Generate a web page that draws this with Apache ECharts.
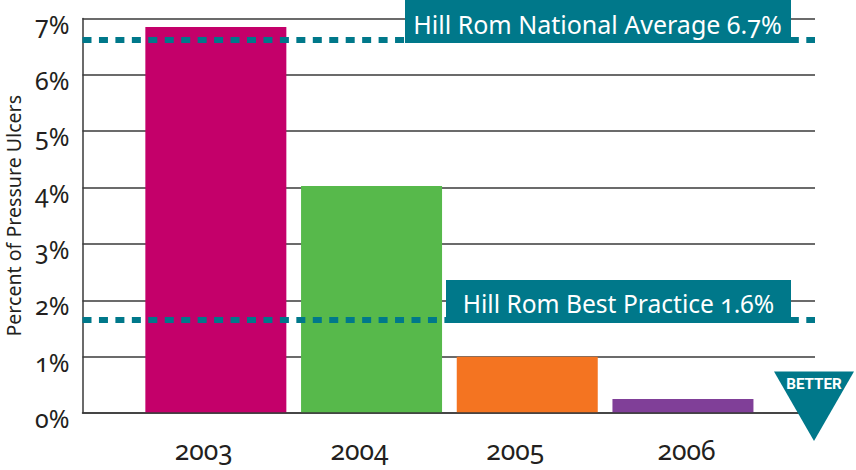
<!DOCTYPE html>
<html>
<head>
<meta charset="utf-8">
<style>
html,body{margin:0;padding:0;background:#fff}
#c{width:856px;height:470px}
text{font-feature-settings:"onum" 1 !important;font-variant-numeric:oldstyle-nums !important}
</style>
<script src="https://cdn.jsdelivr.net/npm/echarts@6/dist/echarts.min.js"></script>
</head>
<body>
<div id="c"></div>
<script>
var years = ['2003','2004','2005','2006'];
var values = [6.85,4.03,1.0,0.25];
var barColors = ['#c4006a','#57b94b','#f47421','#803f98'];
var nationalAverage = 6.62;
var bestPractice = 1.65;
var nationalLabel = 'Hill Rom National Average 6.7%';
var bestLabel = 'Hill Rom Best Practice 1.6%';
var yTitle = 'Percent of Pressure Ulcers';
var betterLabel = 'BETTER';
var teal = '#00788a';
var ink = '#231f20';
var font = '"Noto Sans"';

function dashed(v){
  return {type:'line',xAxisIndex:0,yAxisIndex:0,data:[[0,v],[1,v]],showSymbol:false,silent:true,z:5,
    lineStyle:{color:teal,width:6,type:[9,7.45],cap:'butt'}};
}
var chart = echarts.init(document.getElementById('c'),null,{renderer:'svg',width:856,height:470});
chart.setOption({
  animation:false,
  backgroundColor:'#fff',
  grid:[
    {left:82.5,top:18.5,width:732.5,height:394.5,outerBoundsMode:'none',containLabel:false},
    {left:138,top:18.5,width:622.8,height:394.5,outerBoundsMode:'none',containLabel:false}
  ],
  xAxis:[
    {type:'value',gridIndex:0,min:0,max:1,z:3,axisLabel:{show:false},axisTick:{show:false},splitLine:{show:false},
     axisLine:{show:true,lineStyle:{color:'#3a3a3a',width:1.5}}},
    {type:'category',gridIndex:1,data:years,axisLine:{show:false},axisTick:{show:false},
     axisLabel:{margin:23,fontFamily:font,fontSize:26.5,color:ink,
       formatter:function(v){return v==='2006'?'{r|'+v+'}':'{l|'+v+'}';},
       rich:{l:{fontFamily:font,fontSize:26.5,color:ink,padding:[0,24,0,0]},
             r:{fontFamily:font,fontSize:26.5,color:ink,padding:[0,0,0,7]}}}}
  ],
  yAxis:[
    {type:'value',gridIndex:0,min:0,max:7,interval:1,
     name:yTitle,nameLocation:'middle',nameRotate:90,nameGap:57,
     nameTextStyle:{fontFamily:font,fontSize:19.6,color:ink},
     axisLine:{show:true,lineStyle:{color:'#3a3a3a',width:1.5}},axisTick:{show:false},
     axisLabel:{margin:13,fontFamily:font,fontSize:25,color:ink,verticalAlign:'top',lineHeight:10,formatter:'{value}%'},
     splitLine:{show:true,lineStyle:{color:'#3a3a3a',width:1.5}}},
    {type:'value',gridIndex:1,min:0,max:7,show:false,splitLine:{show:false}}
  ],
  series:[
    {type:'bar',xAxisIndex:1,yAxisIndex:1,barWidth:141,z:2,
     data:values.map(function(v,i){return {value:v,itemStyle:{color:barColors[i]}};})},
    dashed(nationalAverage),
    dashed(bestPractice)
  ],
  graphic:[
    {type:'rect',z:10,shape:{x:405,y:0,width:386,height:43},style:{fill:teal}},
    {type:'text',z:11,x:597.5,y:24,style:{text:nationalLabel,fill:'#fff',font:'25px '+font,textAlign:'center',textVerticalAlign:'middle'}},
    {type:'rect',z:10,shape:{x:446,y:280,width:345,height:43},style:{fill:teal}},
    {type:'text',z:11,x:618.5,y:303,style:{text:bestLabel,fill:'#fff',font:'24.6px '+font,textAlign:'center',textVerticalAlign:'middle'}},
    {type:'polygon',z:10,shape:{points:[[774,371.5],[854,371.5],[814,441]]},style:{fill:teal}},
    {type:'text',z:11,x:814,y:383.5,style:{text:betterLabel,fill:'#fff',font:'bold 15.2px Roboto',textAlign:'center',textVerticalAlign:'middle'}}
  ]
});
</script>
</body>
</html>
